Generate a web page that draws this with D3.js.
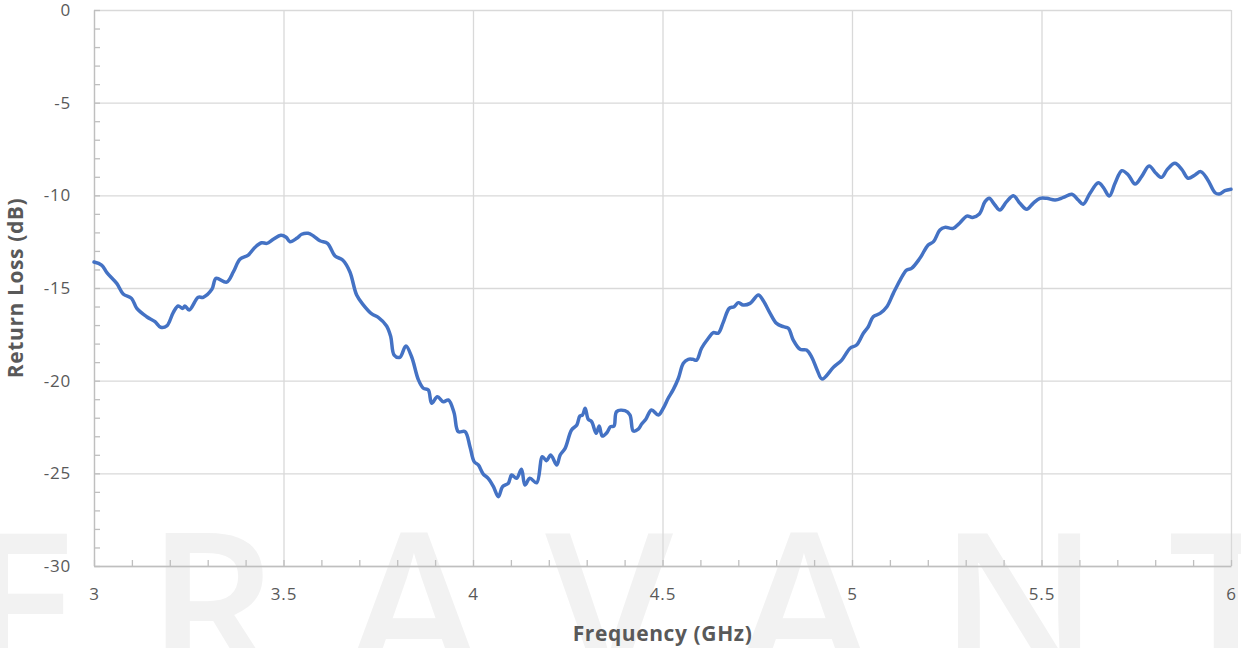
<!DOCTYPE html>
<html>
  <head>
    <meta charset="UTF-8" />
    <title>Return Loss</title>
    <script src="https://cdn.jsdelivr.net/npm/d3@7"></script>
    <style>
      body { margin: 0; background: #fff; }
      svg { display: block; font-family: "Open Sans", sans-serif; }
    </style>
  </head>
  <body>
    <svg></svg>
    <script>
      // data
      const freq = [
        3.000, 3.020, 3.034, 3.060, 3.077, 3.099, 3.113, 3.139, 3.161, 3.176,
        3.192, 3.209, 3.222, 3.234, 3.240, 3.251, 3.275, 3.288, 3.311, 3.322,
        3.350, 3.368, 3.385, 3.407, 3.425, 3.442, 3.456, 3.473, 3.493, 3.507,
        3.517, 3.535, 3.548, 3.565, 3.579, 3.596, 3.616, 3.636, 3.656, 3.675,
        3.693, 3.711, 3.733, 3.750, 3.772, 3.783, 3.792, 3.807, 3.823, 3.838,
        3.856, 3.869, 3.882, 3.891, 3.906, 3.922, 3.935, 3.950, 3.961, 3.979,
        3.992, 4.003, 4.014, 4.027, 4.040, 4.054, 4.067, 4.078, 4.093, 4.102,
        4.115, 4.128, 4.137, 4.150, 4.168, 4.183, 4.194, 4.205, 4.221, 4.230,
        4.243, 4.260, 4.274, 4.282, 4.289, 4.296, 4.304, 4.313, 4.325, 4.333,
        4.341, 4.353, 4.363, 4.372, 4.379, 4.401, 4.414, 4.423, 4.436, 4.445,
        4.456, 4.471, 4.489, 4.502, 4.515, 4.528, 4.542, 4.555, 4.568, 4.580,
        4.590, 4.603, 4.621, 4.634, 4.647, 4.660, 4.676, 4.689, 4.700, 4.713,
        4.731, 4.753, 4.766, 4.784, 4.801, 4.819, 4.832, 4.845, 4.863, 4.880,
        4.894, 4.908, 4.921, 4.951, 4.973, 4.995, 5.012, 5.030, 5.043, 5.056,
        5.074, 5.092, 5.109, 5.127, 5.144, 5.157, 5.179, 5.201, 5.215, 5.232,
        5.245, 5.267, 5.285, 5.303, 5.318, 5.336, 5.351, 5.362, 5.377, 5.390,
        5.408, 5.426, 5.443, 5.461, 5.478, 5.496, 5.514, 5.536, 5.558, 5.580,
        5.597, 5.610, 5.628, 5.650, 5.663, 5.679, 5.694, 5.712, 5.729, 5.747,
        5.764, 5.784, 5.802, 5.817, 5.832, 5.852, 5.870, 5.887, 5.905, 5.920,
        5.938, 5.958, 5.969, 5.984, 6.000
      ]
      const returnLoss = [
        -13.60, -13.76, -14.17, -14.75, -15.32, -15.56, -16.10, -16.55, -16.82, -17.12,
        -17.05, -16.33, -15.97, -16.10, -15.97, -16.19, -15.50, -15.50, -15.07, -14.48,
        -14.68, -14.12, -13.45, -13.22, -12.80, -12.56, -12.59, -12.37, -12.16, -12.26,
        -12.50, -12.32, -12.10, -12.05, -12.19, -12.45, -12.59, -13.27, -13.49, -14.12,
        -15.38, -15.92, -16.40, -16.58, -17.05, -17.63, -18.62, -18.74, -18.13, -18.71,
        -19.96, -20.41, -20.50, -21.22, -20.87, -21.14, -21.04, -21.73, -22.75, -22.75,
        -23.56, -24.37, -24.55, -25.04, -25.27, -25.72, -26.26, -25.72, -25.54, -25.09,
        -25.27, -24.78, -25.63, -25.27, -25.51, -24.10, -24.32, -24.01, -24.55, -24.01,
        -23.65, -22.66, -22.39, -21.91, -21.85, -21.49, -22.08, -22.21, -22.84, -22.45,
        -22.99, -22.81, -22.48, -22.45, -21.67, -21.62, -21.85, -22.72, -22.62, -22.34,
        -22.08, -21.58, -21.85, -21.49, -20.95, -20.50, -19.87, -19.06, -18.85, -18.85,
        -18.89, -18.25, -17.71, -17.41, -17.44, -16.87, -16.10, -16.01, -15.79, -15.92,
        -15.83, -15.38, -15.69, -16.37, -16.91, -17.09, -17.17, -17.81, -18.31, -18.35,
        -18.74, -19.42, -19.91, -19.28, -18.89, -18.25, -18.08, -17.44, -17.09, -16.55,
        -16.37, -16.01, -15.29, -14.57, -14.03, -13.94, -13.40, -12.68, -12.50, -11.87,
        -11.73, -11.78, -11.48, -11.12, -11.19, -11.01, -10.34, -10.16, -10.52, -10.79,
        -10.34, -10.02, -10.43, -10.75, -10.43, -10.16, -10.16, -10.25, -10.11, -9.94,
        -10.25, -10.48, -9.89, -9.32, -9.57, -10.04, -9.35, -8.67, -8.90, -9.39,
        -8.99, -8.42, -8.81, -9.03, -8.60, -8.27, -8.60, -9.08, -8.90, -8.72,
        -9.14, -9.86, -9.93, -9.75, -9.67
      ]
      const xTicks = [3, 3.5, 4, 4.5, 5, 5.5, 6]
      const yTicks = [0, -5, -10, -15, -20, -25, -30]
      const watermark = ["E", "R", "A", "V", "A", "N", "T"]

      const width = 1241
      const height = 648
      const marge = { top: 10, right: 10, bottom: 82, left: 94 }
      const textColor = "#595959"
      // where each logo letter sits (decoration only)
      const wmPos = [22, 212, 414, 609, 804, 1019, 1226]

      const svg = d3
        .select("svg")
        .attr("width", width)
        .attr("height", height)
        .attr("viewBox", [0, 0, width, height])

      const x = d3.scaleLinear().domain([3, 6]).range([marge.left, width - marge.right])
      const y = d3.scaleLinear().domain([-30, 0]).range([height - marge.bottom, marge.top])

      // faint logo text behind the chart
      svg
        .append("g")
        .attr("fill", "#f2f2f2")
        .attr("font-size", 205)
        .attr("font-family", "'Open Sans', sans-serif")
        .attr("font-weight", 600)
        .attr("text-anchor", "middle")
        .selectAll("text")
        .data(watermark)
        .join("text")
        .attr("x", (d, i) => wmPos[i])
        .attr("y", 680)
        .text((d) => d)

      // gridlines
      svg
        .append("g")
        .attr("transform", `translate(${marge.left},0)`)
        .call(d3.axisLeft(y).tickValues(yTicks).tickSize(-(width - marge.left - marge.right)).tickFormat(""))
        .call((g) => g.select(".domain").remove())
        .call((g) => g.selectAll(".tick line").attr("stroke", "#d9d9d9").attr("stroke-width", 1.3))

      svg
        .append("g")
        .attr("transform", `translate(0,${height - marge.bottom})`)
        .call(d3.axisBottom(x).tickValues(xTicks).tickSize(-(height - marge.top - marge.bottom)).tickFormat(""))
        .call((g) => g.select(".domain").remove())
        .call((g) => g.selectAll(".tick line").attr("stroke", "#d9d9d9").attr("stroke-width", 1.3))

      // minor ticks and axis lines
      svg
        .append("g")
        .attr("transform", `translate(${marge.left},0)`)
        .call(d3.axisRight(y).ticks(30).tickSize(6).tickSizeOuter(0).tickFormat(""))
        .call((g) => g.selectAll("line, path").attr("stroke", "#bfbfbf").attr("stroke-width", 1.3))

      svg
        .append("g")
        .attr("transform", `translate(0,${height - marge.bottom})`)
        .call(d3.axisTop(x).ticks(30).tickSize(6).tickSizeOuter(0).tickFormat(""))
        .call((g) => g.selectAll("line, path").attr("stroke", "#bfbfbf").attr("stroke-width", 1.3))

      // tick labels (plain hyphen for negatives, as in the original)
      const plain = (d) => String(d)

      svg
        .append("g")
        .attr("transform", `translate(${marge.left},0)`)
        .call(d3.axisLeft(y).tickValues(yTicks).tickSize(0).tickPadding(23).tickFormat(plain))
        .call((g) => g.select(".domain").remove())
        .call((g) =>
          g
            .selectAll("text")
            .attr("fill", textColor)
            .attr("font-size", 17)
            .attr("letter-spacing", 0.8)
            .attr("font-family", "'Open Sans', sans-serif")
        )

      svg
        .append("g")
        .attr("transform", `translate(0,${height - marge.bottom})`)
        .call(d3.axisBottom(x).tickValues(xTicks).tickSize(0).tickPadding(22).tickFormat(plain))
        .call((g) => g.select(".domain").remove())
        .call((g) =>
          g
            .selectAll("text")
            .attr("fill", textColor)
            .attr("font-size", 17)
            .attr("letter-spacing", 0.8)
            .attr("font-family", "'Open Sans', sans-serif")
        )

      // axis titles
      svg
        .append("text")
        .attr("x", (marge.left + width - marge.right) / 2)
        .attr("y", 641)
        .attr("text-anchor", "middle")
        .attr("font-size", 21)
        .attr("letter-spacing", 0.6)
        .attr("font-weight", "bold")
        .attr("fill", textColor)
        .text("Frequency (GHz)")

      svg
        .append("text")
        .attr("transform", `translate(23,${(marge.top + height - marge.bottom) / 2}) rotate(-90)`)
        .attr("text-anchor", "middle")
        .attr("font-size", 21)
        .attr("letter-spacing", 0.6)
        .attr("font-weight", "bold")
        .attr("fill", textColor)
        .text("Return Loss (dB)")

      // curve
      const points = freq.map((f, i) => [f, returnLoss[i]])
      const line = d3
        .line()
        .curve(d3.curveCatmullRom.alpha(0.5))
        .x((d) => x(d[0]))
        .y((d) => y(d[1]))

      svg
        .append("path")
        .datum(points)
        .attr("fill", "none")
        .attr("stroke", "#4472c4")
        .attr("stroke-width", 3.5)
        .attr("stroke-linejoin", "round")
        .attr("stroke-linecap", "round")
        .attr("d", line)
    </script>
  </body>
</html>
